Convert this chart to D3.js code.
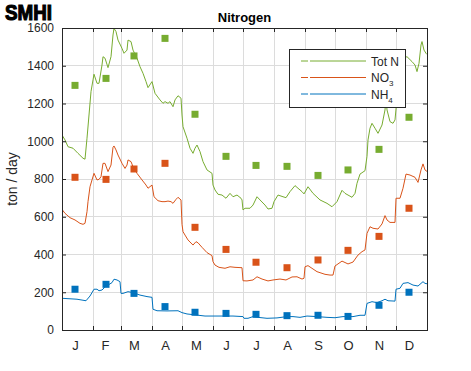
<!DOCTYPE html>
<html>
  <head>
    <meta charset="UTF-8" />
    <script src="https://d3js.org/d3.v7.min.js"></script>
    <style>
      body { margin: 0; background: #fff; }
      text { font-family: "Liberation Sans", Arial, sans-serif; }
    </style>
  </head>
  <body>
    <svg width="471" height="371"></svg>

    <script>
      // daily model curves as [day of year, ton/day]
      const totN = [
        [0, 1033], [3, 1007], [6, 971], [11, 963], [16, 936], [21, 910], [23, 905],
        [25, 1016], [27, 1139], [29, 1263], [31, 1325], [32, 1355], [35, 1307],
        [37, 1307], [40, 1404], [41, 1448], [43, 1440], [46, 1390], [49, 1448],
        [51, 1563], [52, 1598], [54, 1581], [56, 1536], [60, 1492], [62, 1466],
        [65, 1483], [66, 1536], [69, 1528], [71, 1483], [75, 1440], [78, 1395],
        [81, 1360], [84, 1316], [86, 1284], [90, 1316], [93, 1254], [98, 1219],
        [101, 1201], [103, 1210], [106, 1201], [108, 1210], [111, 1183], [113, 1219],
        [116, 1241], [119, 1228], [120, 1139], [121, 1077], [125, 1016], [128, 963],
        [131, 936], [133, 963], [135, 980], [138, 945], [141, 892], [145, 848],
        [150, 830], [151, 768], [153, 742], [156, 719], [160, 715], [164, 698],
        [168, 724], [171, 706], [175, 715], [179, 698], [180, 689], [181, 636],
        [183, 645], [188, 645], [191, 662], [195, 706], [198, 689], [203, 662],
        [206, 641], [210, 645], [212, 680], [216, 715], [221, 706], [224, 701],
        [228, 733], [233, 765], [236, 751], [240, 733], [242, 721], [246, 759],
        [251, 724], [258, 689], [265, 671], [270, 653], [275, 680], [280, 740],
        [283, 724], [290, 703], [293, 724], [295, 777], [298, 826], [303, 844],
        [305, 920], [306, 1007], [308, 1069], [310, 1095], [313, 1069], [316, 1042],
        [320, 1086], [323, 1166], [324, 1228], [325, 1166], [328, 1104], [331, 1095],
        [333, 1113], [335, 1228], [336, 1404], [338, 1448], [341, 1440], [345, 1448],
        [350, 1422], [353, 1404], [355, 1369], [357, 1413], [359, 1510], [360, 1528],
        [362, 1483], [364, 1466], [365, 1460]
      ];
      const no3 = [
        [0, 639], [3, 618], [8, 595], [13, 583], [18, 565], [21, 560], [23, 565],
        [25, 627], [26, 680], [28, 759], [30, 795], [32, 830], [35, 795], [37, 798],
        [39, 812], [41, 883], [43, 883], [46, 839], [49, 874], [51, 968], [52, 975],
        [54, 954], [56, 927], [60, 883], [63, 856], [65, 874], [66, 901], [69, 892],
        [71, 865], [75, 830], [80, 795], [84, 768], [86, 751], [90, 768], [92, 706],
        [96, 685], [100, 680], [103, 680], [106, 683], [109, 680], [111, 671],
        [114, 692], [116, 703], [119, 689], [120, 560], [121, 521], [123, 503],
        [126, 477], [131, 450], [134, 468], [136, 462], [140, 438], [145, 410],
        [150, 394], [151, 362], [153, 344], [157, 332], [163, 327], [168, 335],
        [173, 332], [180, 330], [181, 261], [185, 260], [191, 265], [195, 282],
        [200, 270], [206, 260], [211, 265], [218, 270], [224, 265], [230, 281],
        [235, 282], [240, 270], [242, 274], [243, 335], [246, 341], [255, 309],
        [263, 295], [268, 291], [271, 291], [273, 339], [280, 365], [286, 350],
        [291, 360], [296, 397], [300, 415], [303, 424], [305, 512], [308, 547],
        [311, 539], [316, 535], [320, 562], [323, 606], [325, 583], [328, 570],
        [333, 570], [334, 698], [338, 698], [341, 751], [344, 826], [348, 821],
        [353, 809], [356, 782], [359, 848], [361, 880], [363, 848], [365, 840]
      ];
      const nh4 = [
        [0, 168], [15, 163], [24, 155], [28, 180], [32, 216], [35, 216], [37, 208],
        [40, 212], [44, 233], [46, 238], [50, 251], [52, 269], [55, 265], [58, 256],
        [59, 194], [61, 194], [66, 203], [71, 198], [78, 185], [85, 177], [90, 173],
        [91, 110], [95, 102], [105, 101], [116, 102], [120, 92], [125, 85],
        [135, 79], [143, 74], [155, 74], [171, 74], [181, 71], [182, 62], [186, 62],
        [191, 71], [196, 67], [205, 62], [215, 64], [225, 71], [231, 71], [238, 67],
        [245, 74], [255, 71], [265, 67], [273, 65], [281, 71], [291, 71], [298, 78],
        [303, 78], [305, 141], [310, 150], [315, 145], [320, 155], [323, 163],
        [326, 155], [333, 153], [334, 216], [338, 221], [341, 247], [346, 251],
        [351, 238], [356, 233], [361, 256], [363, 247], [365, 245]
      ];

      // monthly measurements
      const obsDays = [13, 44, 72, 103, 133, 164, 194, 225, 256, 286, 317, 347];
      const totNObs = [1296, 1333, 1452, 1545, 1143, 920, 872, 867, 819, 848, 957, 1127];
      const no3Obs = [809, 798, 853, 883, 544, 427, 359, 330, 371, 422, 496, 645];
      const nh4Obs = [216, 242, 194, 124, 94, 88, 83, 76, 78, 72, 131, 200];

      const monthStarts = [0, 31, 59, 90, 120, 151, 181, 212, 243, 273, 304, 334, 365];
      const labelDays = [13, 43, 72, 103, 134, 164, 194, 225, 256, 286, 317, 347];
      const monthLabels = ["J", "F", "M", "A", "M", "J", "J", "A", "S", "O", "N", "D"];
      const yTicks = [0, 200, 400, 600, 800, 1000, 1200, 1400, 1600];

      const green = "#77ac30", orange = "#d95319", blue = "#0072bd";
      const axisCol = "#262626";

      const svg = d3.select("svg");
      const pLeft = 62, pRight = 427, pTop = 28, pBottom = 330;

      const x = d3.scaleLinear().domain([0, 365]).range([pLeft, pRight]);
      const y = d3.scaleLinear().domain([0, 1600]).range([pBottom, pTop]);

      // grid
      const grid = svg.append("g").attr("stroke", "#dcdcdc").attr("stroke-width", 1)
        .attr("shape-rendering", "crispEdges");
      grid.selectAll(".gx").data(monthStarts.slice(1, -1)).join("line")
        .attr("class", "gx")
        .attr("x1", d => x(d)).attr("x2", d => x(d))
        .attr("y1", pTop).attr("y2", pBottom);
      grid.selectAll(".gy").data(yTicks.slice(1, -1)).join("line")
        .attr("class", "gy")
        .attr("x1", pLeft).attr("x2", pRight)
        .attr("y1", d => y(d)).attr("y2", d => y(d));

      // curves
      svg.append("clipPath").attr("id", "clip").append("rect")
        .attr("x", pLeft).attr("y", pTop).attr("width", pRight - pLeft).attr("height", pBottom - pTop);
      const line = d3.line().x(d => x(d[0])).y(d => y(d[1]));
      const series = [[totN, green], [no3, orange], [nh4, blue]];
      svg.append("g").attr("clip-path", "url(#clip)")
        .selectAll("path").data(series).join("path")
        .attr("d", d => line(d[0]))
        .attr("fill", "none")
        .attr("stroke", d => d[1])
        .attr("stroke-width", 1);

      // measurement squares
      const obs = [[totNObs, green], [no3Obs, orange], [nh4Obs, blue]];
      const sq = 7;
      obs.forEach(([vals, col]) => {
        svg.append("g").selectAll("rect").data(vals).join("rect")
          .attr("x", (d, i) => x(obsDays[i]) - sq / 2)
          .attr("y", d => y(d) - sq / 2)
          .attr("width", sq).attr("height", sq)
          .attr("fill", col);
      });

      // axes
      const yAxisL = d3.axisLeft(y).tickValues(yTicks).tickSize(-4).tickPadding(8)
        .tickFormat(d3.format("d"));
      const gL = svg.append("g").attr("transform", `translate(${pLeft},0)`).call(yAxisL);
      const yAxisR = d3.axisRight(y).tickValues(yTicks).tickSize(-4).tickFormat("");
      const gR = svg.append("g").attr("transform", `translate(${pRight},0)`).call(yAxisR);
      const xAxisB = d3.axisBottom(x).tickValues(monthStarts).tickSize(-4).tickFormat("");
      const gB = svg.append("g").attr("transform", `translate(0,${pBottom})`).call(xAxisB);
      const xAxisT = d3.axisTop(x).tickValues(monthStarts).tickSize(-4).tickFormat("");
      const gT = svg.append("g").attr("transform", `translate(0,${pTop})`).call(xAxisT);
      const xLab = d3.axisBottom(x).tickValues(labelDays).tickSize(0).tickPadding(11)
        .tickFormat((d, i) => monthLabels[i]);
      const gLab = svg.append("g").attr("transform", `translate(0,${pBottom})`).call(xLab);

      [gL, gR, gB, gT, gLab].forEach(g => {
        g.select(".domain").remove();
        g.selectAll("line").attr("stroke", axisCol);
        g.selectAll("text").attr("fill", axisCol)
          .style("font-family", '"Liberation Sans", Arial, sans-serif');
      });
      gL.selectAll("text").style("font-size", "12px");
      gLab.selectAll("text").style("font-size", "13px");

      svg.append("rect")
        .attr("x", pLeft).attr("y", pTop)
        .attr("width", pRight - pLeft).attr("height", pBottom - pTop)
        .attr("fill", "none").attr("stroke", axisCol).attr("stroke-width", 1)
        .attr("shape-rendering", "crispEdges");

      // title, y label, logo
      svg.append("text").attr("x", (pLeft + pRight) / 2).attr("y", 22)
        .attr("text-anchor", "middle").attr("font-weight", "bold")
        .attr("font-size", 13).attr("fill", "#000").text("Nitrogen");

      svg.append("text")
        .attr("transform", "translate(17,179) rotate(-90)")
        .attr("text-anchor", "middle").attr("font-size", 14).attr("fill", axisCol)
        .text("ton / day");

      svg.append("text").attr("x", 5).attr("y", 20)
        .attr("font-size", 22).attr("font-weight", "bold")
        .attr("textLength", 47).attr("lengthAdjust", "spacingAndGlyphs")
        .attr("fill", "#000").attr("stroke", "#000").attr("stroke-width", 1.2)
        .text("SMHI");

      // legend
      const legNames = [["Tot N", ""], ["NO", "3"], ["NH", "4"]];
      const legCols = [green, orange, blue];
      const leg = svg.append("g");
      leg.append("rect").attr("x", 289.5).attr("y", 49.5).attr("width", 116).attr("height", 58)
        .attr("fill", "#fff").attr("stroke", axisCol).attr("stroke-width", 1);
      legNames.forEach((nm, i) => {
        const ly = 61 + i * 16.5;
        leg.append("line").attr("x1", 301).attr("x2", 308).attr("y1", ly).attr("y2", ly)
          .attr("stroke", legCols[i]);
        leg.append("line").attr("x1", 310).attr("x2", 366).attr("y1", ly).attr("y2", ly)
          .attr("stroke", legCols[i]);
        const t = leg.append("text").attr("x", 371).attr("y", ly + 4.5)
          .attr("font-size", 12).attr("fill", axisCol).text(nm[0]);
        if (nm[1]) t.append("tspan").attr("dy", 4).attr("font-size", 8).text(nm[1]);
      });
    </script>
  </body>
</html>
